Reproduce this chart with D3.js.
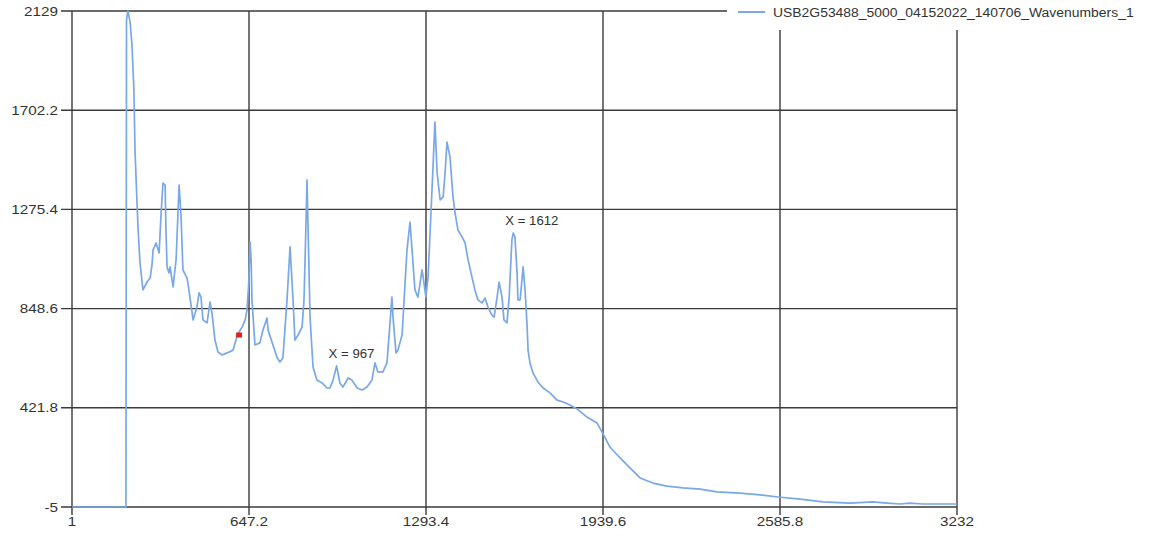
<!DOCTYPE html>
<html>
<head>
<meta charset="utf-8">
<script src="https://cdn.jsdelivr.net/npm/d3@7"></script>
<style>
  body { margin: 0; background: #fff; }
  svg { display: block; font-family: "Liberation Sans", Arial, sans-serif; }
</style>
</head>
<body>
<div id="chart"></div>
<script>
// tick values shown on the axes
const xTicks = [1, 647.2, 1293.4, 1939.6, 2585.8, 3232];
const yTicks = [-5, 421.8, 848.6, 1275.4, 1702.2, 2129];

// spectrum (index, intensity)
const xs = [1, 198, 200, 205, 213, 220, 227, 231, 238, 242, 249, 260, 275, 286, 293, 297, 308, 319, 326, 333,
  341, 344, 348, 355, 359, 370, 381, 392, 399, 406, 421, 428, 443, 457, 465, 472, 479, 494, 505, 512,
  523, 534, 549, 567, 589, 603, 611, 622, 633, 640, 647, 651, 655, 658, 669, 687, 698, 713, 717, 731,
  749, 760, 771, 786, 797, 808, 815, 826, 841, 848, 855, 859, 863, 870, 881, 895, 914, 932, 943, 954,
  967, 979, 990, 1009, 1023, 1042, 1060, 1078, 1096, 1107, 1118, 1136, 1151, 1162, 1169, 1173, 1184, 1191, 1206, 1217,
  1224, 1235, 1246, 1253, 1264, 1279, 1283, 1293, 1301, 1312, 1319, 1326, 1334, 1345, 1356, 1363, 1370, 1381, 1392, 1399,
  1410, 1425, 1436, 1447, 1461, 1472, 1483, 1498, 1509, 1520, 1534, 1542, 1553, 1560, 1571, 1578, 1589, 1597, 1607, 1612,
  1618, 1626, 1629, 1637, 1648, 1655, 1662, 1666, 1673, 1684, 1702, 1721, 1746, 1772, 1794, 1819, 1845, 1881, 1918, 1936,
  1965, 2002, 2038, 2075, 2122, 2173, 2232, 2294, 2356, 2440, 2513, 2579, 2659, 2743, 2841, 2925, 2977, 3024, 3060, 3108,
  3170, 3232];
const ys = [-5, -5, 2090, 2129, 2082, 1983, 1789, 1531, 1316, 1200, 1049, 929, 963, 980, 1036, 1101, 1131, 1088, 1251, 1389,
  1380, 1187, 1028, 1002, 1028, 942, 1058, 1380, 1251, 1015, 980, 929, 800, 855, 916, 898, 800, 787, 877, 830,
  713, 662, 649, 658, 670, 726, 748, 769, 800, 843, 972, 1135, 1058, 886, 692, 701, 756, 808, 756, 705,
  640, 619, 636, 886, 1114, 886, 713, 735, 769, 886, 1200, 1402, 1187, 812, 597, 541, 529, 507, 507, 541,
  602, 529, 511, 550, 541, 507, 498, 511, 541, 615, 576, 576, 615, 787, 898, 812, 658, 670, 735, 959,
  1101, 1221, 1045, 929, 898, 1015, 985, 898, 985, 1273, 1458, 1651, 1432, 1316, 1329, 1432, 1565, 1501, 1329, 1264,
  1187, 1157, 1131, 1058, 985, 929, 886, 873, 894, 855, 821, 812, 898, 963, 898, 800, 787, 898, 1144, 1174,
  1157, 1002, 886, 886, 1028, 929, 787, 670, 615, 572, 533, 507, 486, 455, 447, 434, 417, 382, 356, 318,
  253, 206, 163, 120, 98, 85, 77, 72, 60, 55, 47, 38, 29, 17, 12, 17, 12, 8, 12, 8,
  8, 8];

const seriesName = "USB2G53488_5000_04152022_140706_Wavenumbers_1";
const labelX = [967, 1612];
const labelY = [602, 1174];
const markerX = [611];
const markerY = [735];

const width = 1156, height = 537;
const margin = { top: 11, right: 199, bottom: 30, left: 72 };
const textColor = "#333";

const svg = d3.select("#chart").append("svg")
  .attr("width", width)
  .attr("height", height);

const x = d3.scaleLinear()
  .domain([1, 3232])
  .range([margin.left, width - margin.right]);
const y = d3.scaleLinear()
  .domain([-5, 2129])
  .range([height - margin.bottom, margin.top]);

// the original's lettering is stretched sideways a bit
function wideText(sel, px, py, sx) {
  sel.attr("transform", (d, i) => `translate(${px(d, i)},${py(d, i)}) scale(${sx},1)`);
}

// grid
const grid = svg.append("g").attr("stroke", "#3a3a3a").attr("stroke-width", 1.4);
grid.selectAll(".vg").data(xTicks).join("line")
  .attr("x1", d => x(d)).attr("x2", d => x(d))
  .attr("y1", y(2129)).attr("y2", y(-5) + 8);
grid.selectAll(".hg").data(yTicks).join("line")
  .attr("x1", x(1) - 11).attr("x2", x(3232))
  .attr("y1", d => y(d)).attr("y2", d => y(d));

// axis labels
svg.append("g").selectAll("text").data(yTicks).join("text")
  .attr("dy", "0.36em")
  .attr("text-anchor", "end")
  .attr("font-size", 12.5)
  .attr("fill", textColor)
  .text(d => d)
  .call(wideText, () => x(1) - 14, d => y(d), 1.22);
svg.append("g").selectAll("text").data(xTicks).join("text")
  .attr("text-anchor", "middle")
  .attr("font-size", 12.5)
  .attr("fill", textColor)
  .text(d => d)
  .call(wideText, d => x(d), () => y(-5) + 19, 1.22);

// spectrum
const pts = xs.map((d, i) => [d, ys[i]]);
const line = d3.line().x(d => x(d[0])).y(d => y(d[1]));
svg.append("path")
  .datum(pts)
  .attr("fill", "none")
  .attr("stroke", "#79a8e6")
  .attr("stroke-width", 1.7)
  .attr("stroke-linejoin", "round")
  .attr("d", line);

// red marker
svg.selectAll(".mk").data(markerX).join("rect")
  .attr("x", (d, i) => x(d) - 3)
  .attr("y", (d, i) => y(markerY[i]) - 2.5)
  .attr("width", 6).attr("height", 5)
  .attr("fill", "#e0201c");

// peak labels
svg.selectAll(".lb").data(labelX).join("text")
  .attr("font-size", 12)
  .attr("fill", textColor)
  .text(d => "X = " + d)
  .call(wideText, d => x(d) - 8, (d, i) => y(labelY[i]) - 8, 1.1);

// legend
const lg = svg.append("g");
lg.append("rect").attr("x", 727).attr("y", 0).attr("width", 429).attr("height", 30).attr("fill", "#fff");
lg.append("line").attr("x1", 738).attr("x2", 765).attr("y1", 12).attr("y2", 12)
  .attr("stroke", "#79a8e6").attr("stroke-width", 2);
lg.append("text")
  .attr("font-size", 12)
  .attr("fill", textColor)
  .text(seriesName)
  .call(wideText, () => 773, () => 16.5, 1.16);
</script>
</body>
</html>
